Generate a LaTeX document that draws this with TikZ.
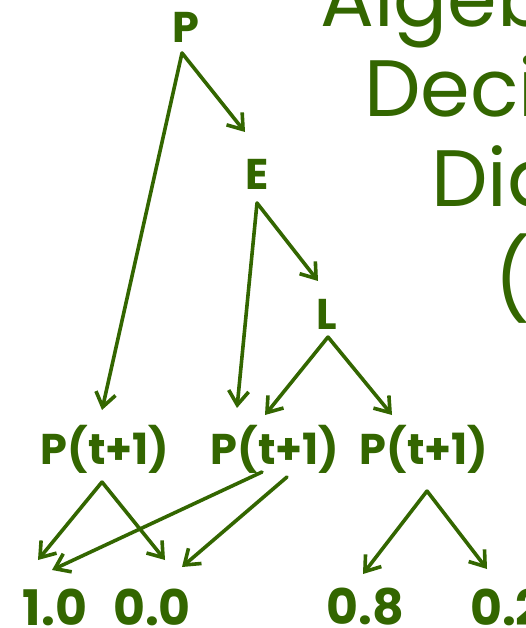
\documentclass[tikz,border=0pt]{standalone}
\usepackage{fontspec}
\setmainfont{Poppins}
\usetikzlibrary{arrows.meta,calc}
\definecolor{addgreen}{RGB}{51,102,0}
\tikzset{
  lbl/.style={text=addgreen, font=\fontsize{43}{45}\selectfont\bfseries, inner sep=0pt, anchor=center},
  val/.style={text=addgreen, font=\fontsize{49}{51}\selectfont\bfseries, inner sep=0pt, anchor=center},
  ttl/.style={text=addgreen, font=\fontsize{80}{82}\selectfont, inner sep=0pt, anchor=base west},
  arr/.style={draw=addgreen, line width=3.6pt, line cap=round, line join=round,
    -{Straight Barb[length=14pt, width=20pt, line width=3.6pt]}}
}
\begin{document}
\begin{tikzpicture}[x=1pt, y=-1pt]
\useasboundingbox (0,0) rectangle (526,628);
\clip (0,0) rectangle (526,628);
% title (cropped)
\node[ttl] (t1) at (320,27) {Algebraic};
\node[ttl] (t2) at (364,117) {Decision};
\node[ttl] (t3) at (431,207) {Diagrams};
\node[ttl] (t4) at (494,308) {(ADDs)};
% nodes
\node[lbl] (P) at (186,27) {P};
\node[lbl] (E) at (257,174) {E};
\node[lbl] (L) at (327,314) {L};
\node[lbl] (Q1) at (105,449) {P(t+1)};
\node[lbl] (Q2) at (275,449) {P(t+1)};
\node[lbl] (Q3) at (424,449) {P(t+1)};
\node[val] (v10) at (55,607) {1.0};
\node[val] (v00) at (152,607) {0.0};
\node[val] (v08) at (365,607) {0.8};
\node[val] (v02) at (507,607) {0.2};
% connectors
\draw[arr] ([shift={(-4,26)}]P.center) -- ([shift={(-12,-42)}]E.center);
\draw[arr] ([shift={(-4,26)}]P.center) -- ([shift={(-3,-39)}]Q1.center);
\draw[arr] ([shift={(0,29)}]E.center) -- ([shift={(-9,-33)}]L.center);
\draw[arr] ([shift={(0,29)}]E.center) -- ([shift={(-38,-41)}]Q2.center);
\draw[arr] ([shift={(1,23)}]L.center) -- ([shift={(-10,-34)}]Q2.center);
\draw[arr] ([shift={(1,23)}]L.center) -- ([shift={(-32,-34)}]Q3.center);
\draw[arr] ([shift={(-3,33)}]Q1.center) -- ([shift={(-17,-47)}]v10.center);
\draw[arr] ([shift={(-3,33)}]Q1.center) -- ([shift={(13,-47)}]v00.center);
\draw[arr] ([shift={(-13,23)}]Q2.center) -- ([shift={(-3,-37)}]v10.center);
\draw[arr] ([shift={(12,28)}]Q2.center) -- ([shift={(30,-40)}]v00.center);
\draw[arr] ([shift={(3,42)}]Q3.center) -- ([shift={(-2,-33)}]v08.center);
\draw[arr] ([shift={(3,42)}]Q3.center) -- ([shift={(-20,-38)}]v02.center);
\end{tikzpicture}
\end{document}
